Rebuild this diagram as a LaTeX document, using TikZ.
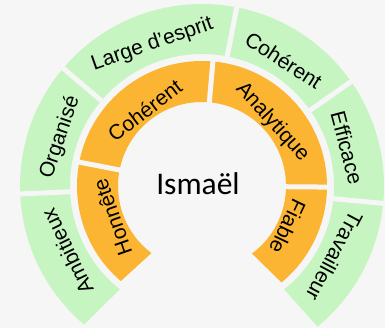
\documentclass[tikz,border=0pt]{standalone}
\usepackage{fontspec}
\setmainfont{Liberation Sans}
\newfontfamily\namefont{Carlito}
\usepackage{xcolor}
\usepackage{tikz}
\definecolor{hellgruen}{HTML}{C6F5C1}
\definecolor{orangegelb}{HTML}{FBB532}
\definecolor{hinter}{HTML}{F6F6F6}

\begin{document}
\begin{tikzpicture}[x=1pt, y=1pt,
    gruen/.style={fill=hellgruen},
    orangeteil/.style={fill=orangegelb},
    fuge/.style={draw=hinter, line width=5pt},
    etikett/.style={font=\fontsize{21}{25}\selectfont, inner sep=0pt}]
% Hintergrund
\fill[hinter] (-202,-142) rectangle (183,186);
\useasboundingbox (-202,-142) rectangle (183,186);

% Aeusserer Ring
\fill[gruen] (229.6:182) arc[start angle=229.6, end angle=-50.6, radius=182]
    -- (-51.5:132) arc[start angle=-51.5, end angle=231.5, radius=132] -- cycle;

% Innerer Ring
\fill[orangeteil] (229.5:125) arc[start angle=229.5, end angle=-50.5, radius=125]
    -- (-53.5:84) arc[start angle=-53.5, end angle=233, radius=84] -- cycle;

% Fugen
\foreach \w in {182.5,139.7,79,35,-5.5}
{
    \draw[fuge] (\w:130) -- (\w:185);
}
\foreach \w in {169,85,-0.5}
{
    \draw[fuge] (\w:82) -- (\w:127);
}

% Beschriftungen aussen
\foreach \w/\txt [count=\i] in {206/Ambitieux, 161.1/Organisé, 109.35/Large d’esprit,
    57/Cohérent, 14.75/Efficace, -28/Travailleur}
{
    \node[etikett, rotate=\w-90] (aussen\i) at (\w:150) {\txt};
}

% Beschriftungen innen
\foreach \w/\txt [count=\i] in {199.25/Honnête, 127/Cohérent, 42.25/Analytique, -25.5/Fiable}
{
    \node[etikett, rotate=\w-90] (innen\i) at (\w:95) {\txt};
}

% Name
\node[font=\namefont\fontsize{31.5}{36}\selectfont, anchor=base, inner sep=0pt] (name) at (-4,-9) {Ismaël};

\end{tikzpicture}
\end{document}
